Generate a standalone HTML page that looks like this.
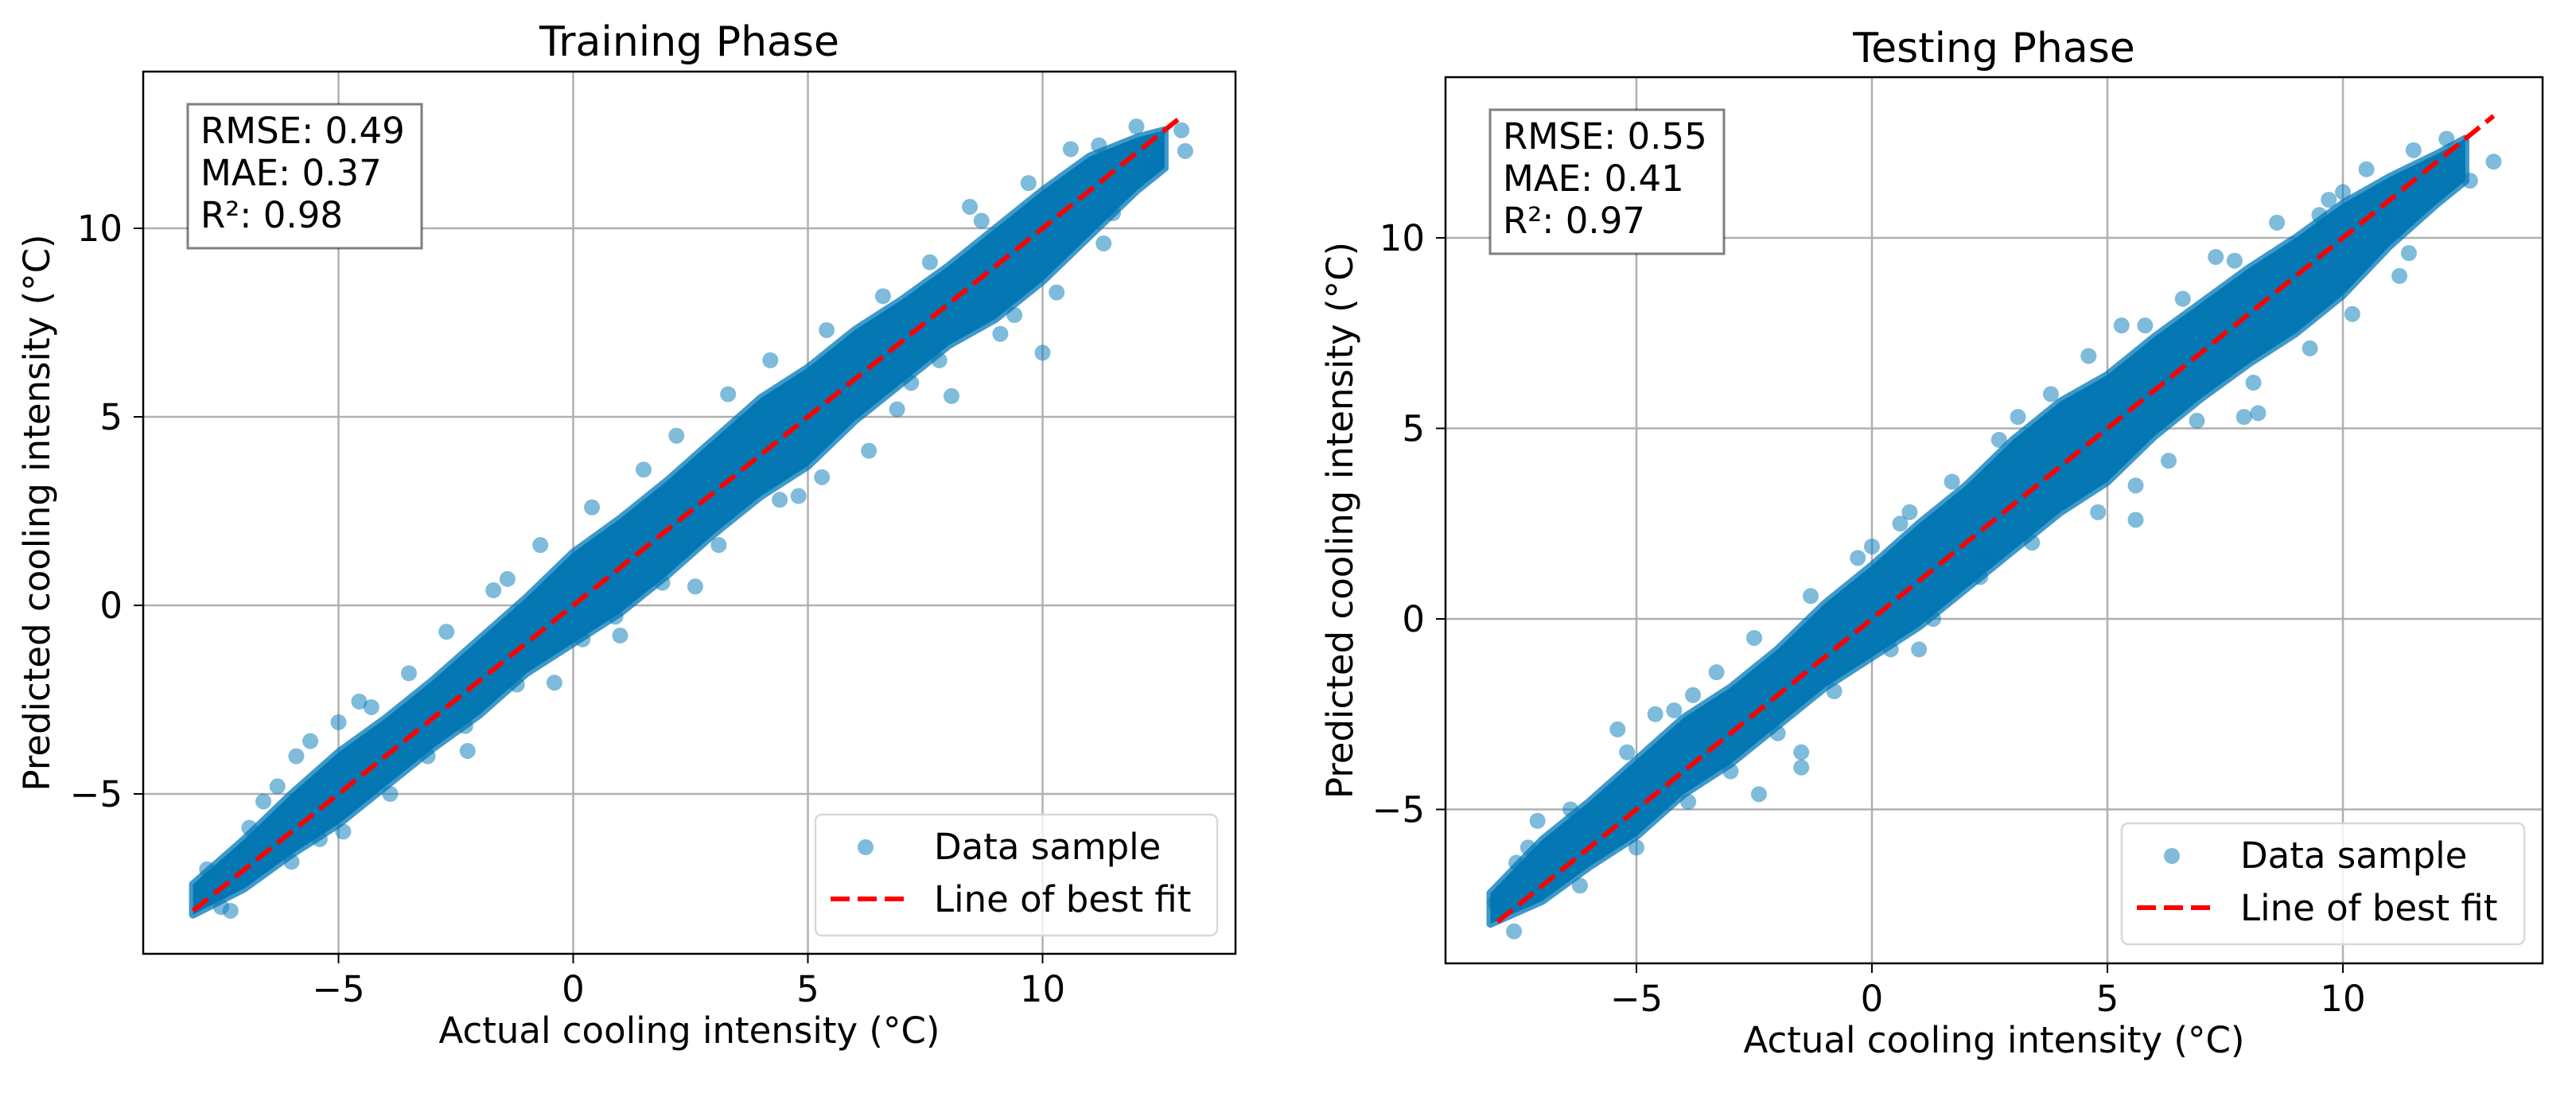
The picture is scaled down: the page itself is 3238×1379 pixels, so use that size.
<!DOCTYPE html>
<html><head><meta charset="utf-8"><style>
html,body{margin:0;padding:0;background:#fff;}
svg{display:block;font-family:"DejaVu Sans","Liberation Sans",sans-serif;}
</style></head><body>
<svg id="fig" width="3238" height="1379" viewBox="0 0 3238 1379" xmlns="http://www.w3.org/2000/svg"></svg>
<script>
// ---- data ----
const tickValues = [-5, 0, 5, 10];
const tickLabels = ["\u22125", "0", "5", "10"];
const panelTitles = ["Training Phase", "Testing Phase"];
const statsTrain = ["RMSE: 0.49", "MAE: 0.37", "R\u00b2: 0.98"];
const statsTest = ["RMSE: 0.55", "MAE: 0.41", "R\u00b2: 0.97"];
const bandX = [-8.1, -7, -6, -5, -4, -3, -2, -1, 0, 1, 2, 3, 4, 5, 6, 7, 8, 9, 10, 11, 12, 12.6];
const trainLo = [-8.2, -7.5, -6.6, -5.8, -4.8, -3.8, -2.9, -1.8, -1.0, -0.2, 0.8, 1.9, 2.9, 3.7, 4.9, 5.9, 6.9, 7.6, 8.6, 9.8, 11.0, 11.6];
const trainHi = [-7.4, -6.2, -5.0, -3.9, -3.0, -2.0, -0.9, 0.2, 1.4, 2.3, 3.3, 4.4, 5.5, 6.3, 7.3, 8.1, 9.0, 10.0, 11.0, 11.9, 12.4, 12.6];
const testLo = [-8.0, -7.4, -6.5, -5.7, -4.6, -3.8, -2.8, -1.8, -1.0, -0.2, 0.8, 1.8, 2.8, 3.6, 4.8, 5.8, 6.7, 7.5, 8.5, 9.8, 10.9, 11.5];
const testHi = [-7.2, -5.8, -4.8, -3.7, -2.6, -1.8, -0.8, 0.4, 1.4, 2.5, 3.5, 4.7, 5.7, 6.4, 7.4, 8.3, 9.2, 10.0, 10.9, 11.6, 12.2, 12.6];
const trainOutX = [8.45, 8.06, 10.0, 12.96, 13.04, 6.3, 4.8, -4.56, -5.0, -5.9, -5.4, -7.5, -2.25, -0.4, -1.4, 1.0, 11.5, 12.3, -6.6, 9.4, 7.2, 2.6,
  -7.8, -6.9, -6.3, -5.6, -4.3, -3.5, -2.7, -1.7, -0.7, 0.4, 1.5, 2.2, 3.3, 4.2, 5.4, 6.6, 7.6, 8.7, 9.7, 10.6, 11.2, 12.0,
  -7.3, -6.0, -4.9, -3.9, -3.1, -2.3, -1.2, 0.2, 0.9, 1.9, 3.1, 4.4, 5.3, 6.9, 7.8, 9.1, 10.3, 11.3];
const trainOutY = [10.57, 5.55, 6.7, 12.6, 12.05, 4.1, 2.9, -2.55, -3.1, -4.0, -6.2, -8.0, -3.86, -2.05, 0.7, -0.8, 10.4, 11.7, -5.2, 7.7, 5.9, 0.5,
  -7.0, -5.9, -4.8, -3.6, -2.7, -1.8, -0.7, 0.4, 1.6, 2.6, 3.6, 4.5, 5.6, 6.5, 7.3, 8.2, 9.1, 10.2, 11.2, 12.1, 12.2, 12.7,
  -8.1, -6.8, -6.0, -5.0, -4.0, -3.2, -2.1, -0.9, -0.3, 0.6, 1.6, 2.8, 3.4, 5.2, 6.5, 7.2, 8.3, 9.6];
const testOutX = [13.2, 12.7, 5.6, 7.9, 6.3, 3.1, 7.3, 5.3, 0.6, 0.0, 1.0, -1.5, -1.5, -2.4, -4.6, -3.8, -7.1, -7.55, -8.0, 10.0, 9.5, 10.9, 8.2, 11.2, -5.4, 2.4,
  -7.3, -6.4, -5.2, -4.2, -3.3, -2.5, -1.3, -0.3, 0.8, 1.7, 2.7, 3.8, 4.6, 5.8, 6.6, 7.7, 8.6, 9.7, 10.5, 11.5, 12.2,
  -7.6, -6.2, -5.0, -3.9, -3.0, -2.0, -0.8, 0.4, 1.3, 2.3, 3.4, 4.8, 5.6, 6.9, 8.1, 9.3, 10.2, 11.4];
const testOutY = [12.0, 11.5, 2.6, 5.3, 4.15, 5.3, 9.5, 7.7, 2.5, 1.9, -0.8, -3.5, -3.9, -4.6, -2.5, -2.0, -5.3, -6.4, -7.45, 11.2, 10.6, 10.6, 5.4, 9.0, -2.9, 1.6,
  -6.0, -5.0, -3.5, -2.4, -1.4, -0.5, 0.6, 1.6, 2.8, 3.6, 4.7, 5.9, 6.9, 7.7, 8.4, 9.4, 10.4, 11.0, 11.8, 12.3, 12.6,
  -8.2, -7.0, -6.0, -4.8, -4.0, -3.0, -1.9, -0.8, 0.0, 1.1, 2.0, 2.8, 3.5, 5.2, 6.2, 7.1, 8.0, 9.6];
const fitTrain = [-8.1, 13.0];
const fitTest = [-7.95, 13.2];

const NS = "http://www.w3.org/2000/svg";
const svg = document.getElementById("fig");
function mk(tag, attrs, parent) {
  const e = document.createElementNS(NS, tag);
  for (const k in attrs) e.setAttribute(k, attrs[k]);
  (parent || svg).appendChild(e);
  return e;
}

function panel(cfg) {
  const g = mk("g", {});
  
  
  const sx = v => cfg.x0 + v * cfg.ux;
  const sy = v => cfg.y0 - v * cfg.uy;
  const L = cfg.left, R = cfg.right, T = cfg.top, B = cfg.bottom;

  tickValues.forEach(v => {
    const gx = mk("line", {x1: sx(v), x2: sx(v), y1: T, y2: B, stroke: "#b0b0b0", "stroke-width": 2.5}, g);
    
    
    const gy = mk("line", {x1: L, x2: R, y1: sy(v), y2: sy(v), stroke: "#b0b0b0", "stroke-width": 2.5}, g);
    
    
  });

  let d = "";
  bandX.forEach((x, i) => { d += (i ? "L" : "M") + sx(x) + "," + sy(cfg.hi[i]) + " "; });
  for (let i = bandX.length - 1; i >= 0; i--) d += "L" + sx(bandX[i]) + "," + sy(cfg.lo[i]) + " ";
  d += "Z";
  const band = mk("path", {d: d, fill: "#0577b3", stroke: "rgba(0,119,182,0.75)", "stroke-width": 10, "stroke-linejoin": "round"}, g);
  
  

  cfg.ox.forEach((x, i) => {
    const c = mk("circle", {cx: sx(x), cy: sy(cfg.oy[i]), r: 10, fill: "rgba(0,119,182,0.5)"}, g);
    
    
  });

  const fl = mk("line", {x1: sx(cfg.fit[0]), y1: sy(cfg.fit[0]), x2: sx(cfg.fit[1]), y2: sy(cfg.fit[1]), stroke: "#ff0000", "stroke-width": 6, "stroke-dasharray": "24,10"}, g);
  
  

  const fr = mk("rect", {x: L, y: T, width: R - L, height: B - T, fill: "none", stroke: "#000", "stroke-width": 2.5}, g);
  
  

  tickValues.forEach((v, i) => {
    const tx = mk("line", {x1: sx(v), x2: sx(v), y1: B, y2: B + 12, stroke: "#000", "stroke-width": 2}, g);
    
    
    const lx = mk("text", {x: sx(v), y: B + 60, "font-size": 45, "text-anchor": "middle", fill: "#000"}, g);
    lx.textContent = tickLabels[i];
    
    
    const ty = mk("line", {x1: L - 12, x2: L, y1: sy(v), y2: sy(v), stroke: "#000", "stroke-width": 2}, g);
    
    
    const ly = mk("text", {x: L - 26, y: sy(v) + 16, "font-size": 45, "text-anchor": "end", fill: "#000"}, g);
    ly.textContent = tickLabels[i];
    
    
  });

  const t = mk("text", {x: (L + R) / 2, y: cfg.titleY, "font-size": 52, "text-anchor": "middle", fill: "#000"}, g);
  t.textContent = cfg.title;
  
  
  const xl = mk("text", {x: (L + R) / 2, y: B + 112, "font-size": 45, "text-anchor": "middle", fill: "#000"}, g);
  xl.textContent = "Actual cooling intensity (\u00b0C)";
  
  
  const yc = (T + B) / 2;
  const yl = mk("text", {x: cfg.ylabX, y: yc, "font-size": 45, "text-anchor": "middle", fill: "#000", transform: "rotate(-90 " + cfg.ylabX + " " + yc + ")"}, g);
  yl.textContent = "Predicted cooling intensity (\u00b0C)";
  
  

  const sb = mk("rect", {x: cfg.sbx, y: cfg.sby, width: 294, height: 181, fill: "#fff", stroke: "rgba(0,0,0,0.5)", "stroke-width": 3}, g);
  
  
  cfg.stats.forEach((s, i) => {
    const st = mk("text", {x: cfg.sbx + 16, y: cfg.sby + 49 + i * 53, "font-size": 45, fill: "#000"}, g);
    st.textContent = s;
    
    
  });

  const lg = mk("rect", {x: cfg.lgx, y: cfg.lgy, width: cfg.lgw, height: 152, rx: 8, fill: "rgba(255,255,255,0.8)", stroke: "#d8d8d8", "stroke-width": 2.5}, g);
  
  
  const lm = mk("circle", {cx: cfg.lgx + 63, cy: cfg.lgy + 41, r: 10, fill: "rgba(0,119,182,0.5)"}, g);
  
  
  const ll = mk("line", {x1: cfg.lgx + 19, x2: cfg.lgx + 112, y1: cfg.lgy + 106, y2: cfg.lgy + 106, stroke: "#ff0000", "stroke-width": 6, "stroke-dasharray": "24,10"}, g);
  
  
  const lt1 = mk("text", {x: cfg.lgx + 149, y: cfg.lgy + 56, "font-size": 45, fill: "#000"}, g);
  lt1.textContent = "Data sample";
  
  
  const lt2 = mk("text", {x: cfg.lgx + 149, y: cfg.lgy + 122, "font-size": 45, fill: "#000"}, g);
  lt2.textContent = "Line of best fit";
  
  
}

panel({name: "training-panel", title: panelTitles[0], left: 180, right: 1553, top: 90, bottom: 1199,
  x0: 720.5, ux: 59, y0: 761, uy: 47.4, lo: trainLo, hi: trainHi, ox: trainOutX, oy: trainOutY, fit: fitTrain,
  titleY: 70, ylabX: 62, sbx: 236, sby: 131, stats: statsTrain, lgx: 1025, lgy: 1024, lgw: 505});
panel({name: "testing-panel", title: panelTitles[1], left: 1817, right: 3196, top: 97, bottom: 1211,
  x0: 2353, ux: 59.2, y0: 778, uy: 47.9, lo: testLo, hi: testHi, ox: testOutX, oy: testOutY, fit: fitTest,
  titleY: 78, ylabX: 1700, sbx: 1873, sby: 138, stats: statsTest, lgx: 2667, lgy: 1035, lgw: 506});
</script>
</body></html>
